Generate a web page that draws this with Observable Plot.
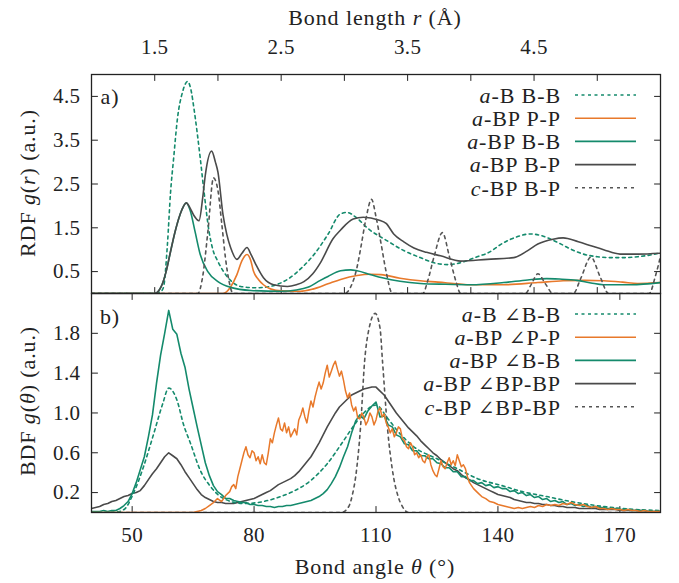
<!DOCTYPE html>
<html><head><meta charset="utf-8">
<script src="https://cdn.jsdelivr.net/npm/d3@7"></script>
<script src="https://cdn.jsdelivr.net/npm/@observablehq/plot@0.6"></script>
<style>
body{margin:0;background:#fff;}
#chart{width:679px;height:583px;position:relative;background:#fff;}
#chart svg{display:block;overflow:visible;}
</style></head><body><div id="chart"></div>
<script>
// ---------- RDF (panel a): [r (Å), g(r)] ----------
const rdfABBB = [[1.0,0],[1.5,0],[1.55,0.05],[1.57,0.15],[1.6,1.1],[1.625,2.3],[1.65,3.1],[1.68,4.0],[1.72,4.6],[1.76,4.84],[1.79,4.6],[1.81,4.23],[1.86,3.09],[1.89,2.32],[1.93,1.41],[1.96,1.0],[2.0,0.73],[2.08,0.36],[2.18,0.16],[2.3,0.13],[2.39,0.15],[2.48,0.22],[2.57,0.36],[2.66,0.58],[2.76,0.89],[2.87,1.35],[2.97,1.82],[3.02,1.85],[3.1,1.72],[3.18,1.5],[3.34,1.2],[3.47,0.98],[3.6,0.82],[3.71,0.7],[3.82,0.66],[3.94,0.72],[4.05,0.84],[4.13,0.92],[4.26,1.16],[4.37,1.3],[4.47,1.36],[4.56,1.32],[4.69,1.16],[4.8,1.0],[4.89,0.9],[5.0,0.84],[5.1,0.82],[5.22,0.82],[5.32,0.84],[5.42,0.88],[5.5,0.93]];
const rdfBPPP = [[1.0,0],[2.04,0],[2.1,0.15],[2.15,0.43],[2.19,0.75],[2.23,0.89],[2.26,0.75],[2.28,0.52],[2.32,0.32],[2.36,0.2],[2.42,0.1],[2.5,0.06],[2.65,0.05],[2.75,0.1],[2.87,0.22],[2.97,0.32],[3.1,0.41],[3.2,0.44],[3.29,0.43],[3.44,0.35],[3.6,0.29],[3.74,0.26],[3.9,0.22],[4.0,0.2],[4.26,0.2],[4.53,0.25],[4.73,0.29],[4.9,0.3],[5.05,0.29],[5.2,0.26],[5.32,0.23],[5.5,0.25]];
const rdfBPBB = [[1.0,0],[1.5,0],[1.55,0.15],[1.59,0.5],[1.62,0.89],[1.66,1.4],[1.7,1.8],[1.75,2.07],[1.78,1.9],[1.82,1.4],[1.86,0.89],[1.92,0.5],[2.0,0.27],[2.1,0.14],[2.26,0.07],[2.5,0.05],[2.62,0.08],[2.71,0.14],[2.81,0.3],[2.87,0.39],[2.97,0.52],[3.05,0.54],[3.1,0.52],[3.21,0.43],[3.3,0.36],[3.44,0.28],[3.6,0.23],[3.8,0.21],[4.0,0.2],[4.26,0.25],[4.45,0.31],[4.6,0.34],[4.7,0.33],[4.84,0.3],[4.95,0.24],[5.05,0.2],[5.27,0.2],[5.5,0.25]];
const rdfBPBP = [[1.0,0],[1.5,0],[1.55,0.15],[1.59,0.5],[1.62,0.89],[1.66,1.4],[1.7,1.8],[1.75,2.07],[1.78,1.95],[1.81,1.78],[1.85,1.66],[1.88,2.2],[1.9,2.7],[1.95,3.25],[1.98,3.0],[2.0,2.77],[2.04,1.8],[2.07,1.35],[2.1,1.05],[2.15,0.78],[2.19,0.92],[2.23,1.05],[2.26,0.9],[2.3,0.66],[2.36,0.36],[2.44,0.2],[2.55,0.16],[2.62,0.2],[2.68,0.27],[2.75,0.45],[2.81,0.7],[2.91,1.25],[2.97,1.45],[3.07,1.7],[3.15,1.74],[3.27,1.68],[3.33,1.6],[3.39,1.36],[3.47,1.18],[3.55,1.04],[3.65,0.94],[3.76,0.86],[3.92,0.74],[4.13,0.78],[4.34,0.82],[4.45,0.98],[4.53,1.13],[4.65,1.24],[4.73,1.27],[4.85,1.18],[4.95,1.09],[5.05,1.0],[5.18,0.9],[5.32,0.9],[5.5,0.92]];
const rdfCBPBP = [[1.0,0],[1.84,0],[1.88,0.4],[1.92,1.4],[1.965,2.64],[2.0,2.35],[2.03,1.6],[2.06,0.8],[2.09,0.25],[2.12,0],[3.0,0],[3.05,0.15],[3.1,0.6],[3.13,1.05],[3.17,1.7],[3.215,2.15],[3.25,1.75],[3.29,1.14],[3.33,0.5],[3.38,0],[3.62,0],[3.66,0.3],[3.71,0.85],[3.775,1.39],[3.83,0.85],[3.88,0.3],[3.92,0],[4.43,0],[4.48,0.22],[4.53,0.45],[4.59,0.22],[4.65,0],[4.81,0],[4.87,0.35],[4.95,0.83],[5.02,0.4],[5.09,0],[5.41,0],[5.46,0.4],[5.5,0.85]];

// ---------- BDF (panel b): [θ (°), g(θ)] ----------
const bdfABBB = [[40,0],[46,0.005],[48,0.03],[50.3,0.19],[52.8,0.46],[55.3,0.79],[57.5,1.09],[59,1.25],[61.1,1.12],[62.6,0.89],[64.4,0.69],[66.8,0.42],[69.3,0.26],[72.5,0.14],[77.4,0.09],[82.3,0.11],[86.5,0.16],[89,0.2],[93.9,0.32],[98,0.49],[102,0.72],[104.5,0.87],[107,1.0],[110,1.08],[112.8,0.95],[115.3,0.82],[119.3,0.66],[125,0.54],[130,0.44],[135,0.34],[141,0.27],[146,0.21],[152,0.16],[158,0.11],[166,0.06],[174,0.03],[180,0.02]];
const bdfCBP = [[40,0],[101.5,0],[103.3,0.06],[104.2,0.18],[105,0.36],[106.2,0.86],[107.2,1.52],[108.3,1.85],[109.8,2.0],[111,1.85],[111.6,1.52],[112.8,0.86],[114.3,0.36],[115.3,0.18],[116.5,0.06],[118,0],[180,0]];
const bdfBPPP = [[40,0],[64,0],[65,0],[66,0.01],[67,0.02],[68,0.04],[69,0.07],[70,0.10],[71,0.14],[72,0.11],[73,0.17],
[74,0.21],[74.5,0.26],[75,0.28],[75.5,0.24],[76,0.36],[76.5,0.44],[77,0.52],[77.5,0.60],[78,0.66],[78.5,0.58],[79,0.55],[79.5,0.62],
[80,0.60],[80.5,0.52],[81,0.56],[81.5,0.49],[82,0.58],[82.5,0.50],[83,0.48],[83.5,0.60],[84,0.74],[84.5,0.70],[85,0.80],[85.5,0.88],
[86,0.95],[86.5,0.84],[87,0.82],[87.5,0.90],[88,0.80],[88.5,0.86],[89,0.76],[89.5,0.80],[90,0.84],[90.5,0.78],[91,0.93],[91.5,0.98],
[92,1.05],[92.5,0.96],[93,0.90],[93.5,1.02],[94,1.12],[94.5,1.06],[95,1.16],[95.5,1.24],[96,1.31],[96.5,1.24],[97,1.30],[97.5,1.40],
[98,1.48],[98.5,1.36],[99,1.42],[99.5,1.48],[100,1.52],[100.5,1.44],[101,1.37],[101.5,1.42],[102,1.33],[102.5,1.22],[103,1.15],[103.5,1.20],
[104,1.08],[104.5,1.02],[105,1.06],[105.5,0.95],[106,0.94],[106.5,1.00],[107,0.96],[107.5,0.88],[108,0.92],[108.5,1.00],[109,0.96],[109.5,0.88],
[110,0.93],[110.5,1.02],[111,1.05],[111.5,0.96],[112,0.99],[112.5,0.90],[113,0.86],[113.5,0.80],[114,0.84],[114.5,0.76],[115,0.80],[115.5,0.86],
[116,0.84],[116.5,0.74],[117,0.72],[117.5,0.66],[118,0.64],[118.5,0.70],[119,0.66],[119.5,0.58],[120,0.60],[120.5,0.55],[121,0.58],[121.5,0.52],
[122,0.50],[122.5,0.56],[123,0.58],[123.5,0.48],[124,0.42],[124.5,0.38],[125,0.36],[125.5,0.44],[126,0.52],[126.5,0.46],[127,0.44],[127.5,0.50],
[128,0.55],[128.5,0.48],[129,0.52],[129.5,0.47],[130,0.58],[130.5,0.52],[131,0.46],[131.5,0.48],[132,0.44],[132.5,0.36],[133,0.30],[133.5,0.27],
[134,0.24],[135,0.20],[136,0.16],[137,0.14],[138,0.11],[139,0.10],[140,0.08],[141,0.07],[142,0.06],[143,0.05],[144,0.04],[145,0.05],
[146,0.04],[147,0.05],[148,0.06],[149,0.05],[150,0.07],[151,0.06],[152,0.08],[153,0.07],[154,0.08],[155,0.07],[156,0.09],[157,0.08],
[158,0.10],[159,0.08],[160,0.07],[161,0.08],[162,0.06],[163,0.05],[164,0.06],[165,0.04],[166,0.04],[167,0.03],[168,0.04],[169,0.03],
[170,0.03],[171,0.02],[172,0.03],[173,0.02],[174,0.02],[175,0.01],[176,0.02],[177,0.01],[178,0.01],[179,0.01],[180,0.01]];
// sampled every 1° from 40° to 180°
const angleStart = 40;
const bdfBPBB = [0.01,0.01,0.01,0.02,0.01,0.02,0.02,0.04,0.07,0.11,
0.19,0.30,0.43,0.56,0.76,0.98,1.30,1.58,1.80,2.03,
1.84,1.79,1.60,1.46,1.24,1.05,0.86,0.68,0.50,0.37,
0.27,0.21,0.18,0.14,0.14,0.12,0.11,0.10,0.10,0.08,
0.08,0.07,0.07,0.06,0.06,0.05,0.06,0.06,0.07,0.07,
0.08,0.09,0.10,0.11,0.12,0.14,0.16,0.19,0.23,0.29,
0.36,0.45,0.56,0.66,0.80,0.92,0.98,0.94,1.02,1.07,
1.11,0.96,0.97,0.88,0.86,0.78,0.76,0.69,0.68,0.62,
0.62,0.57,0.57,0.54,0.54,0.50,0.49,0.45,0.45,0.41,
0.41,0.36,0.36,0.32,0.32,0.29,0.30,0.27,0.28,0.25,
0.26,0.24,0.24,0.21,0.22,0.19,0.20,0.17,0.18,0.15,
0.16,0.13,0.14,0.11,0.12,0.10,0.11,0.08,0.09,0.07,
0.08,0.06,0.07,0.05,0.06,0.05,0.05,0.04,0.04,0.04,
0.03,0.03,0.03,0.02,0.02,0.02,0.02,0.01,0.01,0.01,0.01];
const bdfBPBP = [0.04,0.05,0.06,0.08,0.09,0.11,0.12,0.14,0.16,0.17,
0.19,0.20,0.22,0.27,0.33,0.39,0.44,0.50,0.56,0.60,
0.57,0.54,0.48,0.41,0.35,0.29,0.23,0.18,0.15,0.13,
0.11,0.10,0.10,0.09,0.09,0.09,0.10,0.11,0.12,0.13,
0.14,0.16,0.18,0.20,0.22,0.25,0.28,0.30,0.32,0.34,
0.37,0.41,0.46,0.51,0.56,0.63,0.70,0.78,0.86,0.93,
1.00,1.06,1.10,1.14,1.18,1.20,1.22,1.24,1.25,1.26,
1.26,1.22,1.18,1.12,1.06,1.00,0.95,0.90,0.85,0.81,
0.77,0.72,0.68,0.64,0.60,0.57,0.53,0.50,0.47,0.44,
0.42,0.38,0.35,0.33,0.30,0.28,0.26,0.24,0.22,0.20,
0.18,0.17,0.16,0.15,0.13,0.12,0.11,0.10,0.10,0.09,
0.09,0.08,0.08,0.07,0.07,0.06,0.06,0.05,0.05,0.05,
0.04,0.04,0.04,0.04,0.04,0.03,0.03,0.03,0.03,0.03,
0.02,0.02,0.02,0.02,0.02,0.02,0.02,0.01,0.01,0.01,0.01];

// ---------- ticks & labels ----------
const rTicks = [1.5,2.0,2.5,3.0,3.5,4.0,4.5,5.0];
const rTickLabels = [1.5,2.5,3.5,4.5];
const rdfYTicks = [0.5,1.5,2.5,3.5,4.5];
const thetaTicks = [50,80,110,140,170];
const bdfYTicks = [0.2,0.6,1.0,1.4,1.8];
const rdfLegend = [[["a",1],["-B B-B",0]],[["a",1],["-BP P-P",0]],[["a",1],["-BP B-B",0]],[["a",1],["-BP B-P",0]],[["c",1],["-BP B-P",0]]];
const bdfLegend = [[["a",1],["-B ",0],["\u2220",2],["B-B",0]],[["a",1],["-BP ",0],["\u2220",2],["P-P",0]],[["a",1],["-BP ",0],["\u2220",2],["B-B",0]],[["a",1],["-BP ",0],["\u2220",2],["BP-BP",0]],[["c",1],["-BP ",0],["\u2220",2],["BP-BP",0]]];

// ---------- styles ----------
const GREEN = "#148a6c", ORANGE = "#e8792b", GRAY = "#4a4a4a", DGRAY = "#555555", AX = "#222";
const FONT = "'Liberation Serif', 'Times New Roman', serif";
const styles = [
  {stroke: GREEN, dash: "3,3.5"},
  {stroke: ORANGE, dash: null},
  {stroke: GREEN, dash: null},
  {stroke: GRAY, dash: null},
  {stroke: DGRAY, dash: "3,4"}
];

const tickShape = {draw(ctx, l) { ctx.moveTo(0, 0); ctx.lineTo(0, -l); }};
const ticksX = (vals, anchor) => Plot.vector(vals, {x: d => d, frameAnchor: anchor, length: 6, rotate: anchor === "top" ? 180 : 0, anchor: "start", shape: tickShape, stroke: AX, strokeWidth: 1});
const ticksY = (vals, anchor) => Plot.vector(vals, {y: d => d, frameAnchor: anchor, length: 6, rotate: anchor === "left" ? 90 : -90, anchor: "start", shape: tickShape, stroke: AX, strokeWidth: 1});
const lineOf = (data, s, curve, w = 1.6) => Plot.line(data, {x: d => d[0], y: d => d[1], stroke: s.stroke, strokeWidth: w, strokeDasharray: s.dash, curve, clip: true});
const gridSeries = vals => vals.map((v, i) => [angleStart + i, v]);

const chart = document.getElementById("chart");
const baseStyle = {fontFamily: FONT, fontSize: "21px", color: AX, background: "white", overflow: "visible", letterSpacing: "0.4px"};

const topPlot = Plot.plot({
  width: 679, height: 293, marginTop: 74, marginBottom: 0, marginLeft: 91, marginRight: 19,
  style: baseStyle,
  x: {domain: [1.0, 5.5]},
  y: {domain: [0, 5]},
  marks: [
    Plot.axisX(rTickLabels, {anchor: "top", tickSize: 0, tickPadding: 21, tickFormat: d => d.toFixed(1), label: null}),
    Plot.axisY(rdfYTicks, {anchor: "left", tickSize: 0, tickPadding: 11, tickFormat: d => d.toFixed(1), label: null}),
    ticksX(rTicks, "top"), ticksX(rTicks, "bottom"), ticksY(rdfYTicks, "left"), ticksY(rdfYTicks, "right"),
    lineOf(rdfABBB, styles[0], "monotone-x"),
    lineOf(rdfBPPP, styles[1], "monotone-x"),
    lineOf(rdfBPBB, styles[2], "monotone-x"),
    lineOf(rdfBPBP, styles[3], "monotone-x"),
    lineOf(rdfCBPBP, styles[4], "monotone-x"),
    Plot.frame({stroke: AX, strokeWidth: 1.3})
  ]
});

const botPlot = Plot.plot({
  width: 679, height: 290, marginTop: 0, marginBottom: 71, marginLeft: 91, marginRight: 19,
  style: baseStyle,
  x: {domain: [40, 180]},
  y: {domain: [0, 2.2]},
  marks: [
    Plot.axisX(thetaTicks, {anchor: "bottom", tickSize: 0, tickPadding: 15, label: null}),
    Plot.axisY(bdfYTicks, {anchor: "left", tickSize: 0, tickPadding: 11, tickFormat: d => d.toFixed(1), label: null}),
    ticksX(thetaTicks, "top"), ticksX(thetaTicks, "bottom"), ticksY(bdfYTicks, "left"), ticksY(bdfYTicks, "right"),
    lineOf(bdfCBP, styles[4], "monotone-x"),
    lineOf(gridSeries(bdfBPBP), styles[3], "linear"),
    lineOf(bdfABBB, styles[0], "monotone-x"),
    lineOf(gridSeries(bdfBPBB), styles[2], "linear"),
    lineOf(bdfBPPP, styles[1], "linear", 1.5),
    Plot.frame({stroke: AX, strokeWidth: 1.3})
  ]
});

chart.appendChild(topPlot);
chart.appendChild(botPlot);

function rich(g, parts) {
  parts.forEach(([t, it]) => {
    const s = g.append("tspan").attr("font-style", it === 1 ? "italic" : "normal").text(t);
    if (it === 2) s.attr("font-family", "'DejaVu Serif', serif").attr("font-size", 20);
  });
}
function legend(svg, entries, y0) {
  const g = d3.select(svg).append("g").attr("font-family", FONT).attr("font-size", 22).attr("fill", AX).attr("letter-spacing", "0.9px");
  entries.forEach((parts, i) => {
    const y = y0 + i * 23.2;
    const t = g.append("text").attr("x", 561).attr("y", y).attr("text-anchor", "end").attr("dy", "0.35em");
    rich(t, parts);
    g.append("line").attr("x1", 575).attr("x2", 636).attr("y1", y).attr("y2", y)
      .attr("stroke", styles[i].stroke).attr("stroke-width", 1.6)
      .attr("stroke-dasharray", styles[i].dash);
  });
  return g;
}
const gTop = legend(topPlot, rdfLegend, 95);
const gBot = legend(botPlot, bdfLegend, 21);

// panel tags
gTop.append("text").attr("x", 110).attr("y", 104).text("a)");
gBot.append("text").attr("x", 110).attr("y", 31).text("b)");
// axis titles
rich(gTop.append("text").attr("x", 375).attr("y", 25).attr("text-anchor", "middle"), [["Bond length ",0],["r",1],[" (\u00C5)",0]]);
rich(gBot.append("text").attr("x", 375).attr("y", 281).attr("text-anchor", "middle"), [["Bond angle ",0],["\u03B8",1],[" (\u00B0)",0]]);
rich(gTop.append("text").attr("transform", "translate(27,183) rotate(-90)").attr("text-anchor", "middle").attr("dy", "0.35em"), [["RDF ",0],["g",1],["(",0],["r",1],[") (a.u.)",0]]);
rich(gBot.append("text").attr("transform", "translate(27,108) rotate(-90)").attr("text-anchor", "middle").attr("dy", "0.35em"), [["BDF ",0],["g",1],["(",0],["\u03B8",1],[") (a.u.)",0]]);
</script></body></html>
